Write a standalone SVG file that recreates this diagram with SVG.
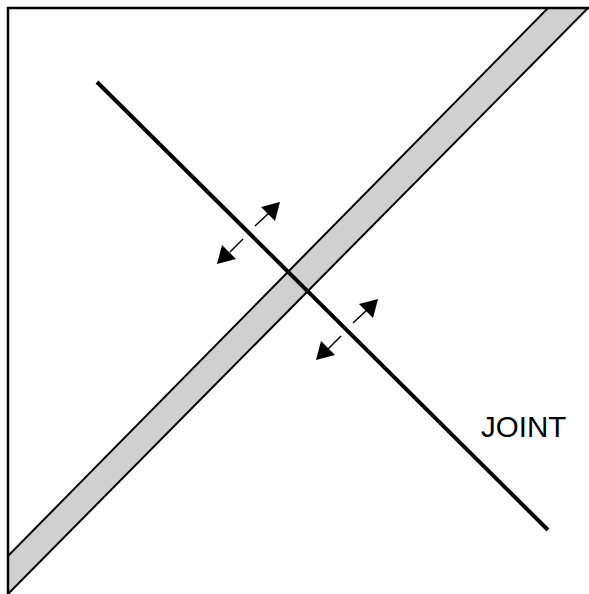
<svg xmlns="http://www.w3.org/2000/svg" width="589" height="594" viewBox="0 0 589 594">
<defs>
<style>
.frame{fill:none;stroke:#000;stroke-width:2.5}
.band{fill:#d0d0d0;stroke:#000;stroke-width:2;stroke-linejoin:miter}
.joint{stroke:#000;stroke-width:4;fill:none}
.shaft{stroke:#000;stroke-width:1.5;fill:none}
.head{fill:#000}
.lbl{font-family:"Liberation Sans",Arial,sans-serif;font-size:29.5px;fill:#000}
</style>
</defs>
<rect width="589" height="594" fill="#fff"/>
<g id="band">
<polygon class="band" points="548,8 588,8 8,594 8,556"/>
</g>
<g id="frame">
<polyline class="frame" points="8,594 8,8 589,8"/>
</g>
<g id="joint">
<line class="joint" x1="97" y1="82" x2="548" y2="530"/>
<text class="lbl" x="481" y="437">JOINT</text>
</g>
<g id="connectors">
<line class="shaft" x1="255" y1="226" x2="270" y2="212"/>
<polygon class="head" points="280,202 275,221 261,207"/>
<line class="shaft" x1="243" y1="239" x2="230" y2="252"/>
<polygon class="head" points="217,264 222,245 236,259"/>
<line class="shaft" x1="353" y1="323" x2="368" y2="309"/>
<polygon class="head" points="378,299 373,318 359,304"/>
<line class="shaft" x1="341" y1="336" x2="328" y2="349"/>
<polygon class="head" points="316,360 321,341 335,355"/>
</g>
</svg>
